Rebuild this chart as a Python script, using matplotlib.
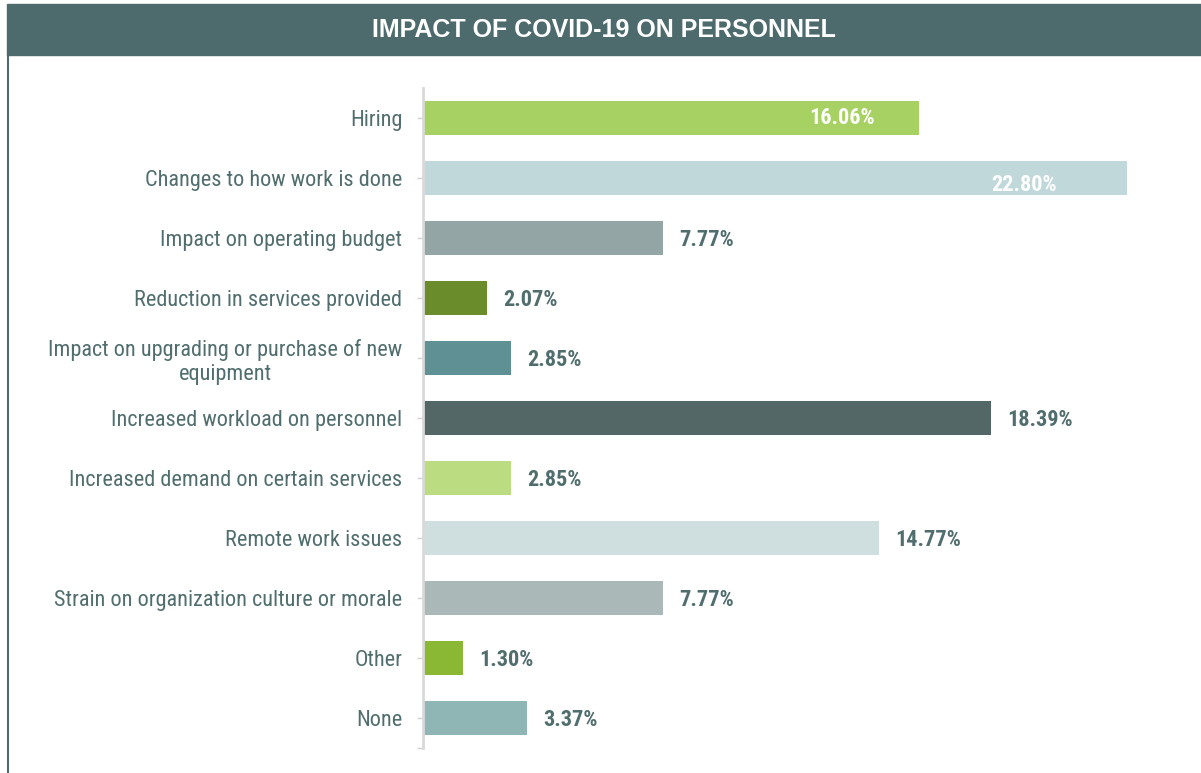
import matplotlib.pyplot as plt
from matplotlib.patches import Rectangle
from matplotlib.lines import Line2D

# data
categories = [
    "Hiring",
    "Changes to how work is done",
    "Impact on operating budget",
    "Reduction in services provided",
    "Impact on upgrading or purchase of new\nequipment",
    "Increased workload on personnel",
    "Increased demand on certain services",
    "Remote work issues",
    "Strain on organization culture or morale",
    "Other",
    "None",
]
values = [16.06, 22.80, 7.77, 2.07, 2.85, 18.39, 2.85, 14.77, 7.77, 1.30, 3.37]
bar_colors = ["#a8d163", "#c1d8da", "#93a6a5", "#6b8c2a", "#5f9093", "#536866",
              "#bcdc82", "#cfdfe0", "#aab8b7", "#8ab834", "#8fb5b5"]

TEAL = "#4d6b6c"
TEXT = "#516e6e"
NARROW = ["Roboto Condensed", "Liberation Sans", "DejaVu Sans"]

W, H = 1201, 773
fig = plt.figure(figsize=(W / 100, H / 100), dpi=100)

# title banner and the left frame line
fig.patches.append(Rectangle((7 / W, 1 - 55 / H), 1 - 7 / W, 51 / H,
                             transform=fig.transFigure, color=TEAL, zorder=0))
fig.lines.append(Line2D([7.5 / W, 7.5 / W], [0, 1 - 55 / H],
                        transform=fig.transFigure, color=TEAL, lw=1.5))
fig.text(604 / W, 1 - 30 / H, "IMPACT OF COVID-19 ON PERSONNEL", color="white",
         fontsize=18, fontweight="bold", ha="center", va="center",
         family=["Liberation Sans", "DejaVu Sans"])

ax = fig.add_axes([423 / W, 1 - 748 / H, 772 / W, 660 / H])
y = list(range(len(categories)))
ax.barh(y, values, height=0.58, color=bar_colors)
ax.set_xlim(0, 772 / 30.88)
ax.set_ylim(len(categories) - 0.5, -0.5)

ax.set_yticks(y)
ax.set_yticklabels(categories, fontsize=16, color=TEXT, family=NARROW)
for t in ax.get_yticklabels():
    t.set_multialignment("center")
ax.set_yticks([len(categories) - 0.5], minor=True)
ax.tick_params(axis="y", which="both", length=4, width=1, color="#d0d0d0", pad=11)
ax.set_xticks([])
for s in ["top", "right", "bottom"]:
    ax.spines[s].set_visible(False)
ax.spines["left"].set_color("#d9d9d9")
ax.spines["left"].set_linewidth(2)

px = 1 / 30.88  # data units per pixel
for i, v in enumerate(values):
    lbl = f"{v:.2f}%"
    if i == 0:
        ax.text(v - 44 * px, i, lbl, color="white", fontsize=16, fontweight="bold",
                ha="right", va="center", family=NARROW)
    elif i == 1:
        ax.text(v - 70 * px, i + 0.12, lbl, color="white", fontsize=16,
                fontweight="bold", ha="right", va="center", family=NARROW)
    else:
        ax.text(v + 16 * px, i + 0.03, lbl, color=TEXT, fontsize=16, fontweight="bold",
                ha="left", va="center", family=NARROW)

fig.savefig("out.png", dpi=100)
